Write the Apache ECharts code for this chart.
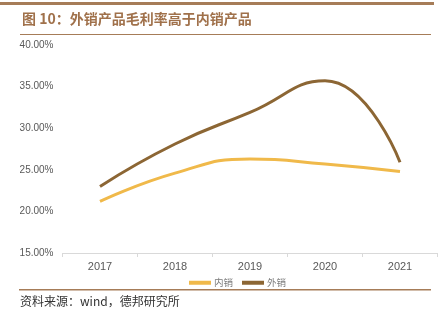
<!DOCTYPE html>
<html><head><meta charset="utf-8">
<script src="https://cdn.jsdelivr.net/npm/echarts@6/dist/echarts.min.js"></script>
<style>html,body{margin:0;padding:0;background:#fff}#c{width:442px;height:325px}</style>
</head><body><div id="c"></div>
<script>
const categories = ['2017','2018','2019','2020','2021'];
const domesticSales = [21.2, 24.6, 26.3, 25.7, 24.8];
const exportSales = [23.0, 28.1, 31.9, 35.7, 25.9];
const seriesNames = ['内销','外销'];
const titleText = '图 10：外销产品毛利率高于内销产品';
const sourceText = '资料来源：wind，德邦研究所';

const chart = echarts.init(document.getElementById('c'), null, {renderer:'canvas'});
chart.setOption({
  animation:false,
  backgroundColor:'#fff',
  grid:{left:62.5, right:4.5, top:45, bottom:72},
  legend:{
    data:seriesNames, top:273, left:184, itemWidth:22, itemHeight:4, itemGap:9,
    icon:'rect',
    textStyle:{color:'#7a7a7a', fontSize:9.5, fontFamily:'Noto Sans CJK SC', padding:[0,0,0,-2]}
  },
  xAxis:{
    type:'category', data:categories, boundaryGap:true,
    axisLine:{lineStyle:{color:'#d9d9d9'}},
    axisTick:{show:true, lineStyle:{color:'#d9d9d9'}, length:4},
    axisLabel:{color:'#595959', fontSize:11, fontFamily:'Liberation Sans', margin:8}
  },
  yAxis:{
    type:'value', min:15, max:40, interval:5,
    axisLine:{show:false}, axisTick:{show:false}, splitLine:{show:false},
    axisLabel:{color:'#595959', fontSize:10, fontFamily:'Liberation Sans', margin:9,
      formatter:v=>v.toFixed(2)+'%'}
  },
  series:[
    {name:seriesNames[0], type:'line', data:domesticSales, smooth:true, showSymbol:false, symbol:'none',
      lineStyle:{color:'#F0B94A', width:3}, itemStyle:{color:'#F0B94A'}},
    {name:seriesNames[1], type:'line', data:exportSales, smooth:true, showSymbol:false, symbol:'none',
      lineStyle:{color:'#8C6634', width:3}, itemStyle:{color:'#8C6634'}}
  ],
  graphic:[
    {type:'rect', shape:{x:0,y:2,width:434,height:3}, style:{fill:'#A67C58'}},
    {type:'text', left:22, top:12, style:{text:titleText, fill:'#A0714B', font:'bold 14px "Noto Sans CJK SC"'}},
    {type:'rect', shape:{x:20,y:34,width:411,height:1}, style:{fill:'#A67C58'}},
    {type:'rect', shape:{x:19,y:289,width:412,height:1.5}, style:{fill:'#A67C58'}},
    {type:'text', left:20, top:295, style:{text:sourceText, fill:'#333', font:'12px "Noto Sans CJK SC"'}}
  ]
});
</script></body></html>
